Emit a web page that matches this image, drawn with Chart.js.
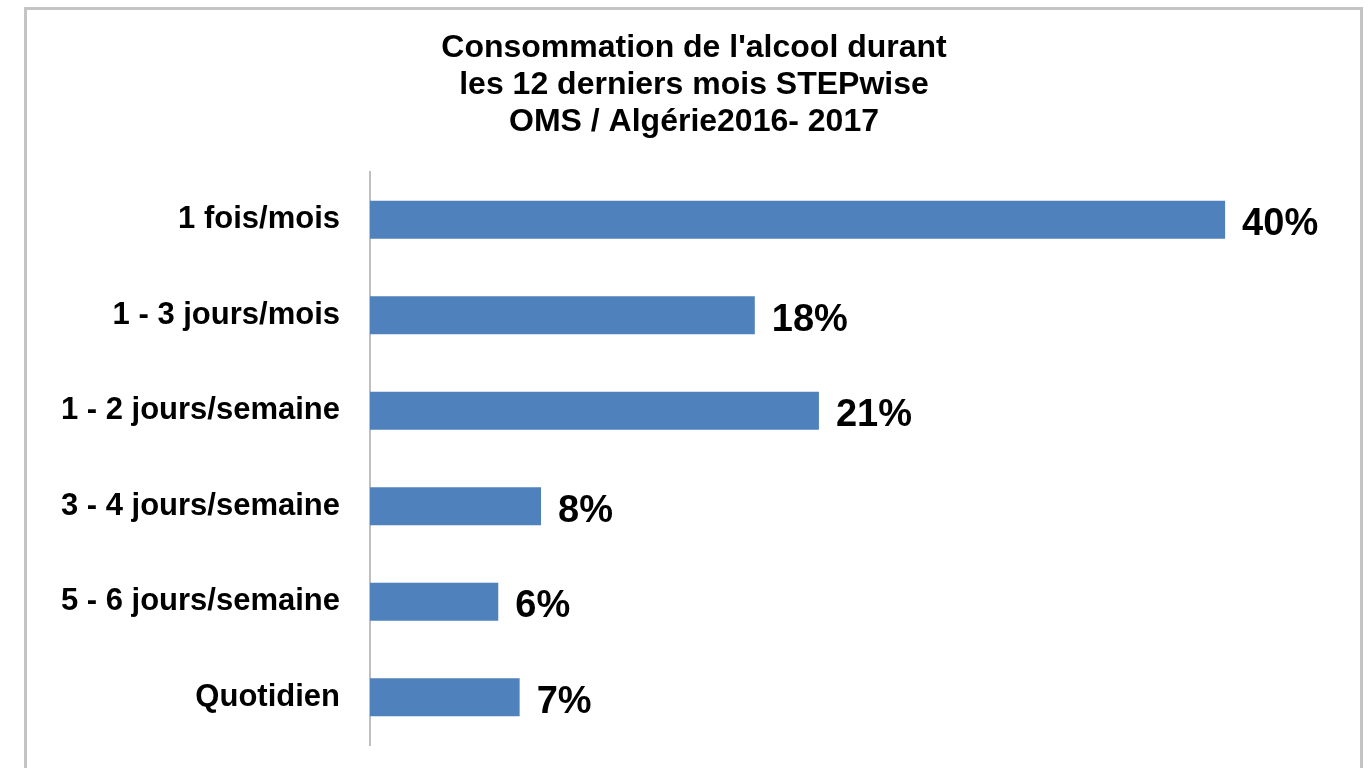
<!DOCTYPE html>
<html>
<head>
<meta charset="utf-8">
<script src="https://cdn.jsdelivr.net/npm/chart.js@4.4.0/dist/chart.umd.min.js"></script>
<style>
    html, body { margin: 0; padding: 0; overflow: hidden; background: #fff; }
    #frame {
        position: absolute; left: 24px; top: 7px; width: 1339px; height: 820px;
        border: 3px solid #c4c4c4; box-sizing: border-box;
    }
    #wrap { position: absolute; left: 0; top: 0; width: 1370px; height: 768px; }
</style>
</head>
<body>
<div id="frame"></div>
<div id="wrap"><canvas id="alcoolChart" width="1370" height="768"></canvas></div>
<script>
var titleLines = ["Consommation de l'alcool durant", 'les 12 derniers mois STEPwise', 'OMS / Algérie2016- 2017'];
var categories = ['1 fois/mois', '1 - 3 jours/mois', '1 - 2 jours/semaine', '3 - 4 jours/semaine', '5 - 6 jours/semaine', 'Quotidien'];
var values = [40, 18, 21, 8, 6, 7];
var valueLabels = ['40%', '18%', '21%', '8%', '6%', '7%'];

var fontFamily = '"Liberation Sans", Arial, sans-serif';

// etiquettes de valeur au bout des barres
var barLabels = {
    id: 'barLabels',
    afterDatasetsDraw: function(chart) {
        var ctx = chart.ctx;
        var meta = chart.getDatasetMeta(0);
        ctx.save();
        ctx.font = 'bold 38px ' + fontFamily;
        ctx.fillStyle = '#000';
        ctx.textAlign = 'left';
        ctx.textBaseline = 'middle';
        meta.data.forEach(function(bar, i) {
            ctx.fillText(valueLabels[i], bar.x + 17, bar.y + 5);
        });
        ctx.restore();
    }
};

var ctx = document.getElementById('alcoolChart').getContext('2d');
var alcoolChart = new Chart(ctx, {
    type: 'bar',
    data: {
        labels: categories,
        datasets: [{
            data: values,
            backgroundColor: '#4f81bd',
            borderWidth: 0,
            barPercentage: 0.4,
            categoryPercentage: 1
        }]
    },
    options: {
        indexAxis: 'y',
        responsive: false,
        animation: false,
        layout: { padding: { left: 56, right: 38, top: 0, bottom: 23 } },
        plugins: {
            legend: { display: false },
            tooltip: { enabled: false },
            title: {
                display: true,
                text: titleLines,
                color: '#000',
                font: { family: fontFamily, size: 32, weight: 'bold', lineHeight: 37 / 32 },
                padding: { top: 29.5, bottom: 31.5 }
            }
        },
        scales: {
            x: { display: false, min: 0, max: 45 },
            y: {
                grid: { display: false, drawTicks: false },
                border: { display: true, color: '#bfbfbf', width: 2 },
                ticks: {
                    color: '#000',
                    padding: 30,
                    font: { family: fontFamily, size: 31, weight: 'bold' }
                },
                afterFit: function(scale) {
                    scale.width = 314;
                    scale.paddingTop = 0;
                    scale.paddingBottom = 0;
                }
            }
        }
    },
    plugins: [barLabels]
});
</script>
</body>
</html>
